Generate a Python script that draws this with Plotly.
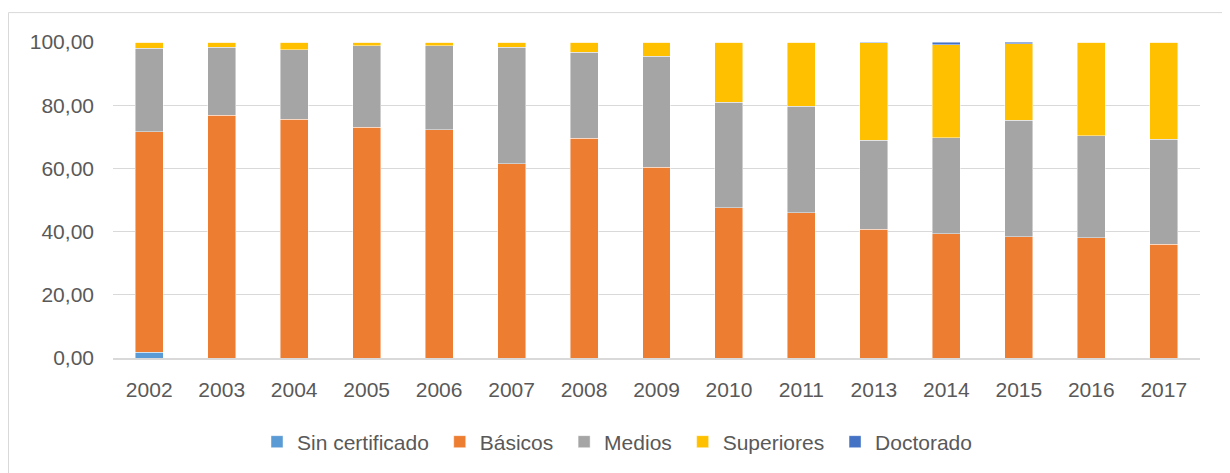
import plotly.graph_objects as go

years = ["2002", "2003", "2004", "2005", "2006", "2007", "2008", "2009",
         "2010", "2011", "2013", "2014", "2015", "2016", "2017"]

sin_certificado = [1.9, 0, 0, 0, 0, 0, 0, 0, 0, 0, 0, 0, 0, 0, 0]
basicos = [69.7, 76.8, 75.5, 73.0, 72.2, 61.4, 69.5, 60.4, 47.5, 46.0, 40.7, 39.4, 38.4, 38.1, 36.0]
medios = [26.4, 21.5, 22.1, 25.8, 26.6, 36.9, 27.2, 35.1, 33.4, 33.7, 28.2, 30.3, 36.9, 32.3, 33.2]
superiores = [2.0, 1.7, 2.4, 1.2, 1.2, 1.7, 3.3, 4.5, 19.1, 20.3, 30.8, 29.5, 24.1, 29.6, 30.8]
doctorado = [0, 0, 0, 0, 0, 0, 0, 0, 0, 0, 0.3, 0.8, 0.6, 0, 0]

series = [
    ("Sin certificado", sin_certificado, "#5B9BD5"),
    ("Básicos", basicos, "#ED7D31"),
    ("Medios", medios, "#A5A5A5"),
    ("Superiores", superiores, "#FFC000"),
    ("Doctorado", doctorado, "#4472C4"),
]

# page is offset by the default 8px body margin
OFF = 8
W, H = 1230 - OFF, 473 - OFF
L, R, T, B = 113 - OFF, 1200 - OFF, 42 - OFF, 359 - OFF

fig = go.Figure()
for name, vals, col in series:
    fig.add_trace(go.Bar(
        x=years, y=vals, name=name + "\u00a0",
        marker=dict(color=col, line=dict(color="rgba(255,255,255,0.6)", width=0.75)),
    ))

font_family = "Liberation Sans, Arial, sans-serif"
fig.update_layout(
    width=W, height=H,
    barmode="stack",
    bargap=0.614,
    separators=",.",
    paper_bgcolor="white",
    plot_bgcolor="white",
    margin=dict(l=L, r=W - R, t=T, b=H - B, pad=0),
    font=dict(family=font_family, size=21, color="#595959"),
    xaxis=dict(
        type="category",
        showgrid=False,
        showline=True, linecolor="#D9D9D9", linewidth=1.5,
        ticks="", ticklabelstandoff=12,
        tickfont=dict(size=21, color="#595959"),
    ),
    yaxis=dict(
        range=[0, 100], dtick=20, tick0=0,
        tickformat=".2f",
        showgrid=True, gridcolor="#D9D9D9", gridwidth=1,
        zeroline=False, showline=False,
        ticks="", ticklabelstandoff=18,
        tickfont=dict(size=21, color="#595959"),
    ),
    showlegend=True,
    legend=dict(
        orientation="h",
        x=(620 - OFF - L) / (R - L), xanchor="center",
        y=(B - (442 - OFF)) / (B - T), yanchor="middle",
        font=dict(size=21, color="#595959"),
        bgcolor="rgba(0,0,0,0)",
        traceorder="normal",
    ),
    shapes=[dict(
        type="rect", xref="paper", yref="paper",
        x0=(8 - OFF + 0.5 - L) / (R - L), x1=(1228 - OFF - L) / (R - L),
        y0=(B - (476 - OFF)) / (B - T), y1=(B - (12.5 - OFF)) / (B - T),
        line=dict(color="#D9D9D9", width=1),
        fillcolor="rgba(0,0,0,0)", layer="below",
    )],
)

fig.write_html("out.html")
